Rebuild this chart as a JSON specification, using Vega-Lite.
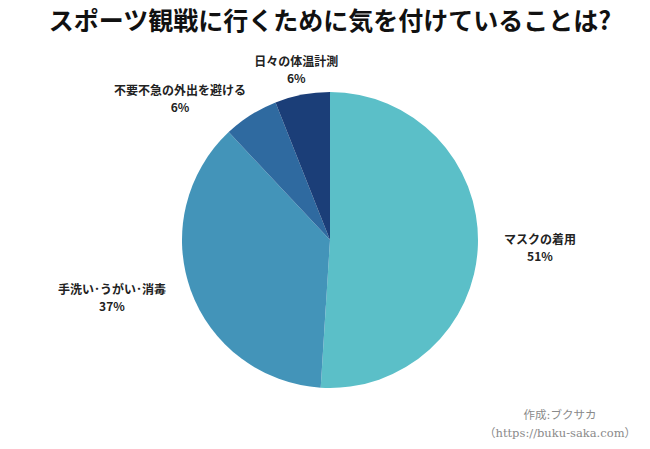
{
  "$schema": "https://vega.github.io/schema/vega-lite/v6.json",
  "autosize": "none",
  "width": 650,
  "height": 400,
  "padding": {"left": 5, "top": 40, "right": 0, "bottom": 9},
  "background": "white",
  "view": {"stroke": null},
  "title": {
    "text": "スポーツ観戦に行くために気を付けていることは?",
    "font": "Noto Sans CJK JP",
    "fontSize": 25,
    "fontWeight": "bold",
    "color": "#111111",
    "anchor": "middle",
    "offset": 5
  },
  "data": {
    "values": [
      {"item": "マスクの着用", "value": 51},
      {"item": "手洗い･うがい･消毒", "value": 37},
      {"item": "不要不急の外出を避ける", "value": 6},
      {"item": "日々の体温計測", "value": 6}
    ]
  },
  "transform": [
    {"stack": "value", "groupby": [], "as": ["v0", "v1"]},
    {"calculate": "(datum.v0 + datum.v1) / 2", "as": "mid"},
    {"calculate": "[datum.item, datum.value + '%']", "as": "lbl"}
  ],
  "layer": [
    {
      "mark": {"type": "arc", "outerRadius": 148},
      "encoding": {
        "theta": {"field": "v0", "type": "quantitative", "stack": null, "scale": {"domain": [0, 100]}},
        "theta2": {"field": "v1"},
        "color": {
          "field": "item",
          "type": "nominal",
          "scale": {
            "domain": ["マスクの着用", "手洗い･うがい･消毒", "不要不急の外出を避ける", "日々の体温計測"],
            "range": ["#5bbfc8", "#4394b9", "#2f6aa0", "#1b3e78"]
          },
          "legend": null
        }
      }
    },
    {
      "transform": [{"filter": {"field": "item", "equal": "マスクの着用"}}],
      "mark": {"type": "text", "radius": 172, "align": "center", "dx": 38, "dy": -5, "baseline": "middle", "font": "Noto Sans CJK JP", "fontSize": 12, "fontWeight": "bold", "color": "#222222", "lineHeight": 17},
      "encoding": {
        "theta": {"field": "mid", "type": "quantitative", "stack": null},
        "text": {"field": "lbl"}
      }
    },
    {
      "transform": [{"filter": {"field": "item", "oneOf": ["手洗い･うがい･消毒", "不要不急の外出を避ける"]}}],
      "mark": {"type": "text", "radius": 168, "align": "center", "dx": -60, "dy": -7, "baseline": "middle", "font": "Noto Sans CJK JP", "fontSize": 12, "fontWeight": "bold", "color": "#222222", "lineHeight": 17},
      "encoding": {
        "theta": {"field": "mid", "type": "quantitative", "stack": null},
        "text": {"field": "lbl"}
      }
    },
    {
      "transform": [{"filter": {"field": "item", "equal": "日々の体温計測"}}],
      "mark": {"type": "text", "radius": 180, "align": "center", "dy": -1, "baseline": "middle", "font": "Noto Sans CJK JP", "fontSize": 12, "fontWeight": "bold", "color": "#222222", "lineHeight": 17},
      "encoding": {
        "theta": {"field": "mid", "type": "quantitative", "stack": null},
        "text": {"field": "lbl"}
      }
    },
    {
      "data": {"values": [{"credit": ["作成:ブクサカ", "（https://buku-saka.com）"]}]},
      "mark": {"type": "text", "align": "center", "baseline": "middle", "font": "DejaVu Serif, Noto Sans CJK JP", "fontSize": 11.5, "color": "#8a8a8a", "lineHeight": 18, "x": 555, "y": 376},
      "encoding": {"text": {"field": "credit"}}
    }
  ]
}
